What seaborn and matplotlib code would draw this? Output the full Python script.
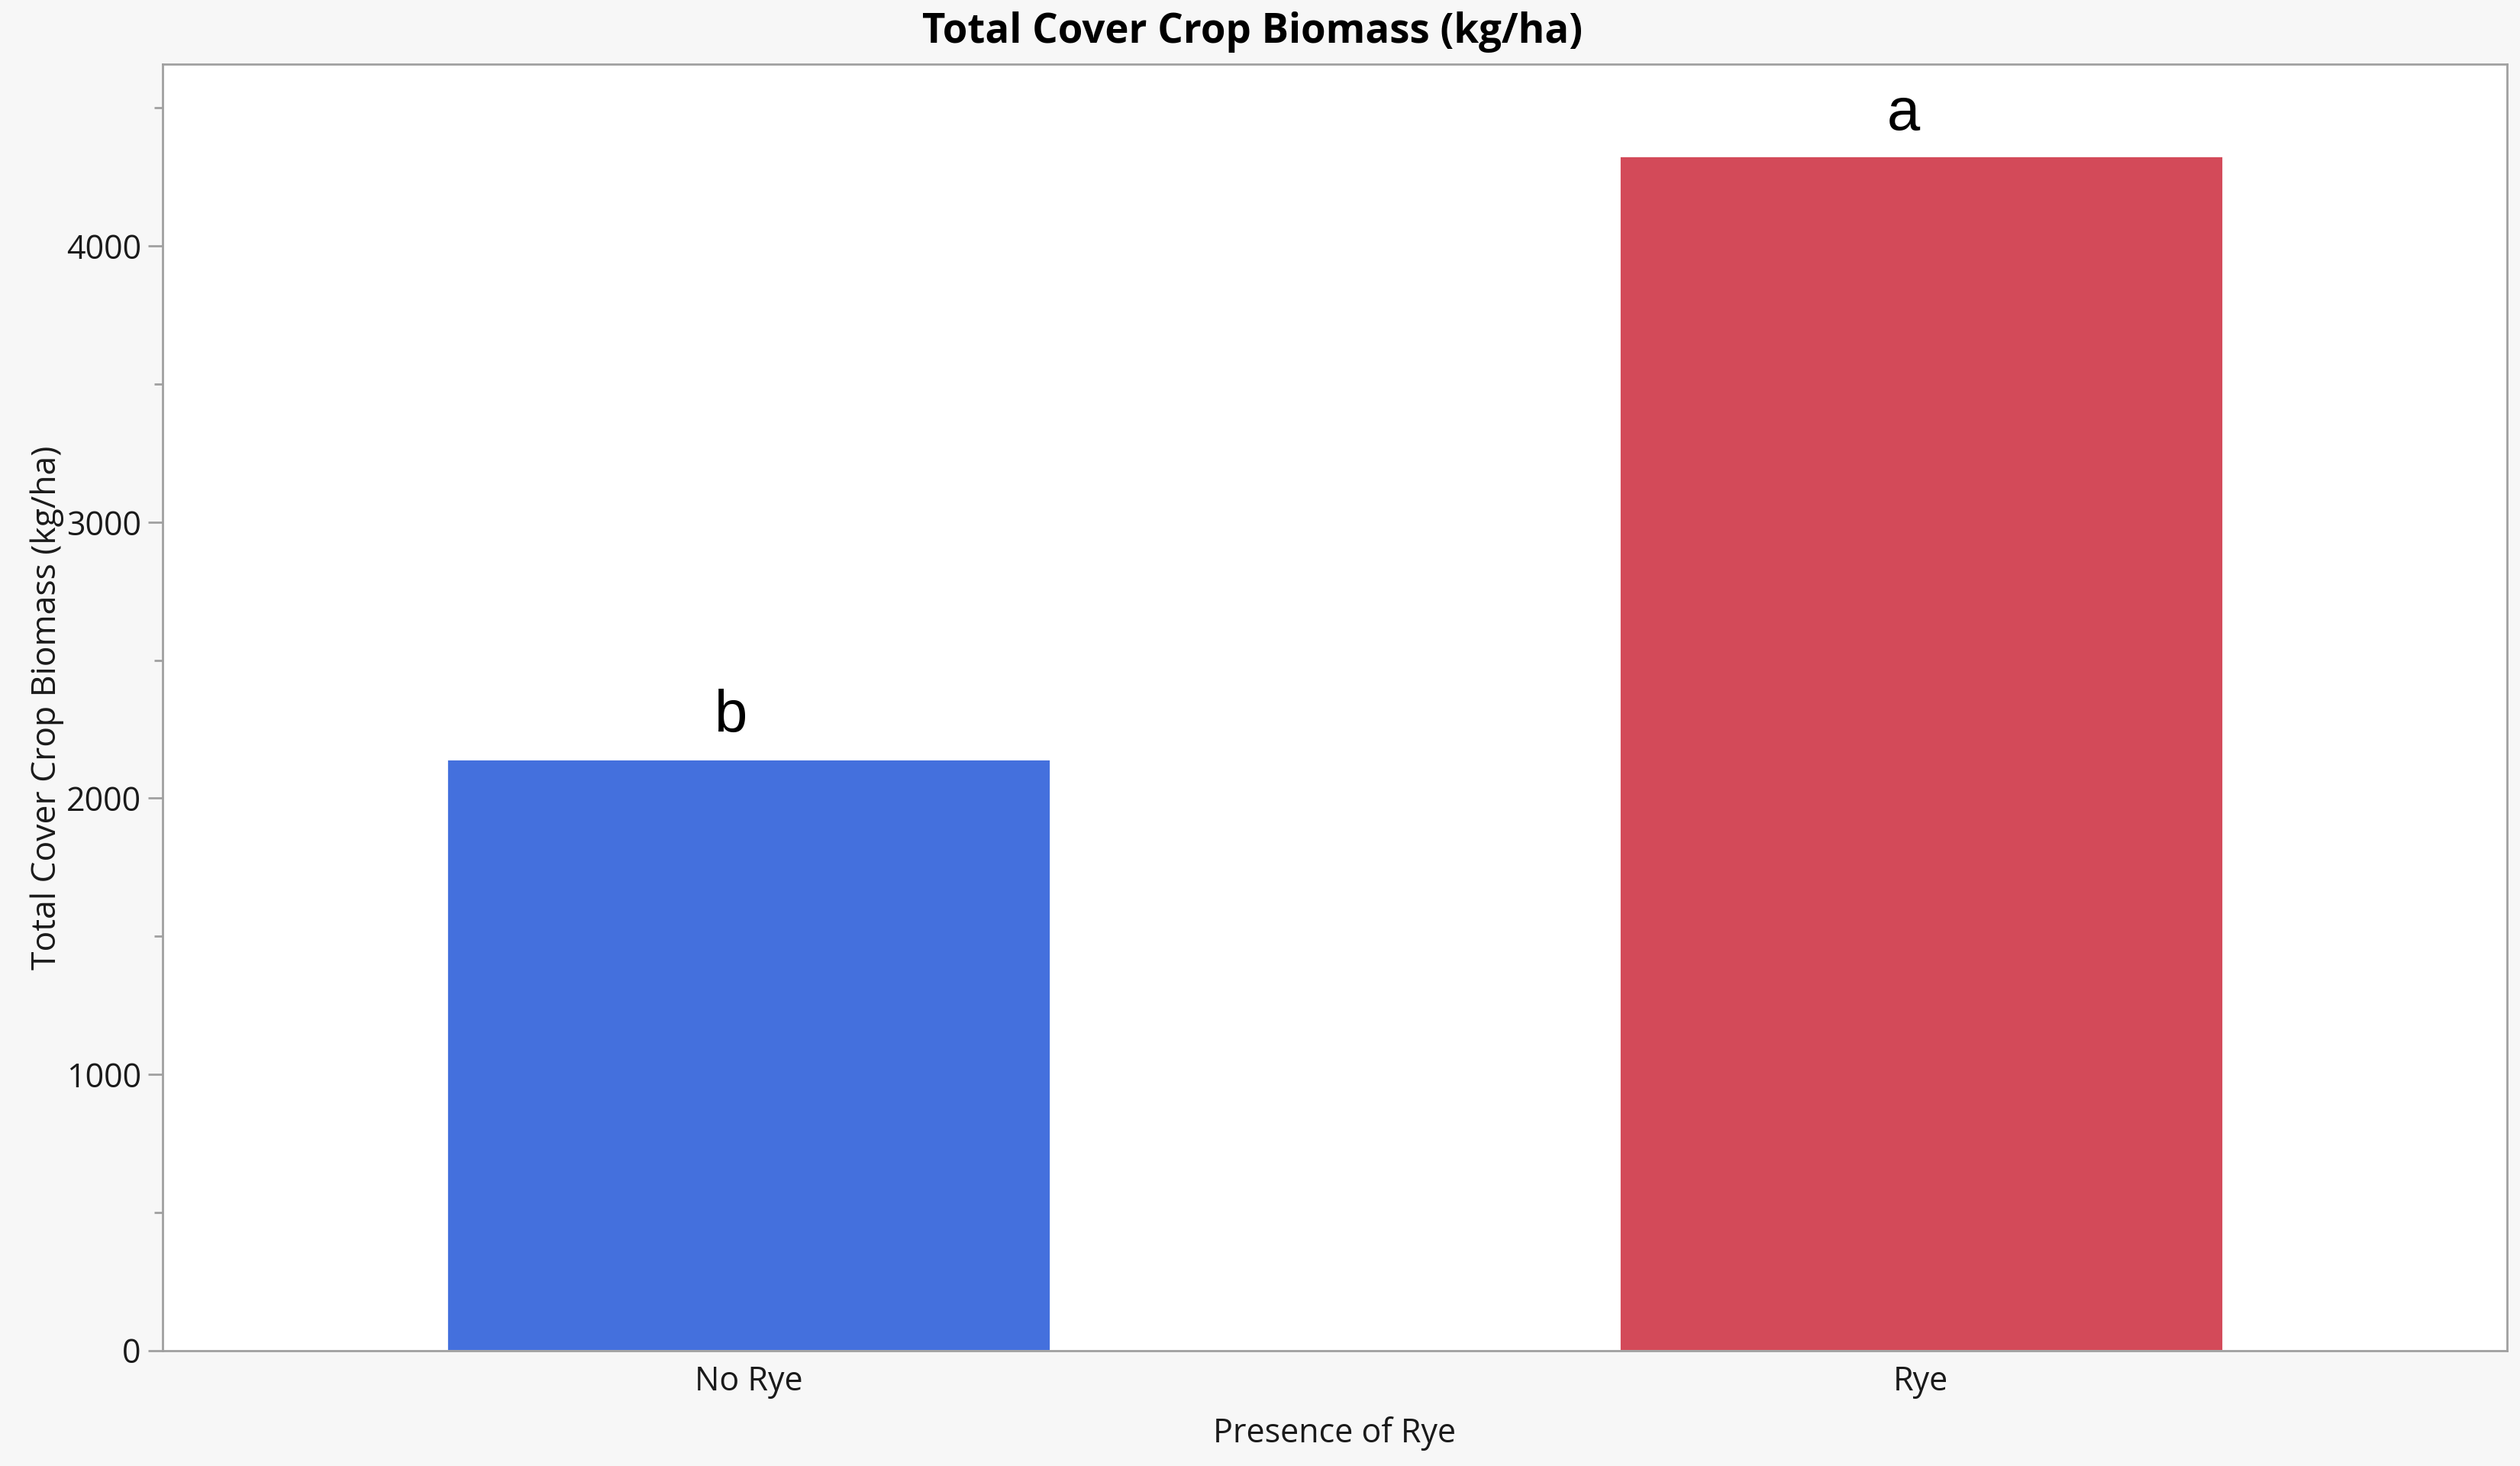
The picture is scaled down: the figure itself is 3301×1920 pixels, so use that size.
import matplotlib
matplotlib.use("Agg")
import matplotlib.pyplot as plt
import seaborn as sns
import pandas as pd
from matplotlib.ticker import MultipleLocator

categories = ["No Rye", "Rye"]
biomass = [2143, 4326]
letters = ["b", "a"]
bar_colors = ["#4470DD", "#D34A59"]

sns.set_theme(style="white")
plt.rcParams['font.family'] = ['Open Sans', 'DejaVu Sans']

df = pd.DataFrame({"Presence of Rye": categories, "Biomass": biomass})

fig = plt.figure(figsize=(16.505, 9.6), dpi=200, facecolor="#f7f7f7")
ax = fig.add_axes([0.0644, 0.0789, 0.9305, 0.8772])
ax.set_facecolor("white")

sns.barplot(data=df, x="Presence of Rye", y="Biomass", hue="Presence of Rye",
            palette=bar_colors, legend=False, width=0.515, saturation=1,
            ax=ax, zorder=2)

ax.set_xlim(-0.5, 1.5)
ax.set_ylim(0, 4658)
ax.yaxis.set_major_locator(MultipleLocator(1000))
ax.yaxis.set_minor_locator(MultipleLocator(500))
ax.tick_params(axis="y", which="major", length=7, width=1, color="#a0a0a0",
               labelsize=15.5, labelcolor="#1a1a1a", pad=3, left=True)
ax.tick_params(axis="y", which="minor", length=4, width=1, color="#a0a0a0", left=True)
ax.tick_params(axis="x", length=0, labelsize=15.5, labelcolor="#1a1a1a", pad=7)

for s in ax.spines.values():
    s.set_color("#a0a0a0")
    s.set_linewidth(1.0)

ax.set_xlabel("Presence of Rye", fontsize=15.5, color="#1a1a1a", labelpad=8)
ax.set_ylabel("Total Cover Crop Biomass (kg/ha)", fontsize=16, color="#1a1a1a", labelpad=1)

for i, (v, t) in enumerate(zip(biomass, letters)):
    ax.text(i - 0.015, v + 95, t, ha="center", va="baseline", fontsize=28,
            family=["Liberation Sans", "DejaVu Sans"], color="black")

fig.suptitle("Total Cover Crop Biomass (kg/ha)", x=0.497, y=0.978, fontsize=19,
             fontweight="bold", color="black", va="center")

fig.savefig("out.png", dpi=200, facecolor=fig.get_facecolor())
